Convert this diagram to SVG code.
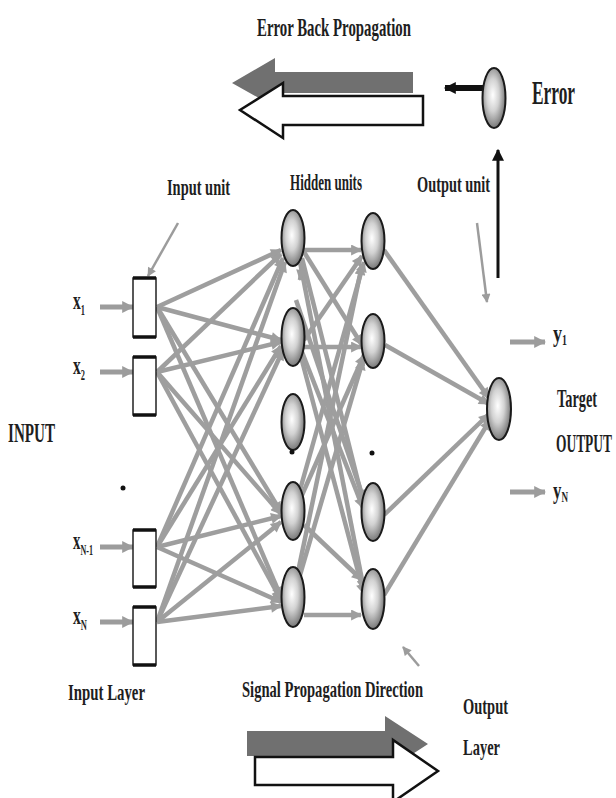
<svg xmlns="http://www.w3.org/2000/svg" width="616" height="798" viewBox="0 0 616 798">
<style>
text{font-family:"Liberation Serif","Times New Roman",serif;fill:#1e1e1e;font-weight:bold}
.lbl{font-size:26px}
.sm{font-size:24px}
.sub{font-size:14px}
.conn{stroke:#9e9e9e;stroke-width:4.5;fill:none;marker-end:url(#ga)}
.inp{stroke:#9c9c9c;stroke-width:5;fill:none;marker-end:url(#gb)}
.ptr{stroke:#9c9c9c;stroke-width:2.5;fill:none;marker-end:url(#gp)}
.node{fill:url(#ball);stroke:#1a1a1a;stroke-width:2}
.box{fill:#fff;stroke:#222;stroke-width:1.5}
.edge{stroke:#111;stroke-width:3.5}
</style>
<defs>
<radialGradient id="ball" cx="45%" cy="45%" r="60%">
<stop offset="0" stop-color="#ffffff"/>
<stop offset="0.45" stop-color="#d2d2d2"/>
<stop offset="1" stop-color="#6a6a6a"/>
</radialGradient>
<marker id="ga" viewBox="0 0 10 10" refX="9" refY="5" markerWidth="13" markerHeight="11" markerUnits="userSpaceOnUse" orient="auto"><path d="M0,0 L10,5 L0,10 Z" fill="#9e9e9e"/></marker>
<marker id="gb" viewBox="0 0 10 10" refX="9" refY="5" markerWidth="12" markerHeight="16" markerUnits="userSpaceOnUse" orient="auto"><path d="M0,0 L10,5 L0,10 Z" fill="#9c9c9c"/></marker>
<marker id="gp" viewBox="0 0 10 10" refX="9" refY="5" markerWidth="10" markerHeight="9" markerUnits="userSpaceOnUse" orient="auto"><path d="M0,0 L10,5 L0,10 Z" fill="#9c9c9c"/></marker>
<marker id="ka" viewBox="0 0 10 10" refX="9" refY="5" markerWidth="12" markerHeight="22" markerUnits="userSpaceOnUse" orient="auto"><path d="M0,0 L10,5 L0,10 Z" fill="#111"/></marker>
<marker id="kb" viewBox="0 0 10 10" refX="9" refY="5" markerWidth="18" markerHeight="12" markerUnits="userSpaceOnUse" orient="auto"><path d="M0,0 L10,5 L0,10 Z" fill="#111"/></marker>
</defs>
<rect width="616" height="798" fill="#fff"/>

<g id="connectors">
<!-- input to hidden layer 1 -->
<line class="conn" x1="157" y1="307" x2="281" y2="250"/>
<line class="conn" x1="157" y1="307" x2="281" y2="340"/>
<line class="conn" x1="157" y1="307" x2="281" y2="512"/>
<line class="conn" x1="157" y1="307" x2="281" y2="597"/>
<line class="conn" x1="157" y1="372" x2="281" y2="254"/>
<line class="conn" x1="157" y1="372" x2="281" y2="342"/>
<line class="conn" x1="157" y1="372" x2="281" y2="514"/>
<line class="conn" x1="157" y1="372" x2="281" y2="600"/>
<line class="conn" x1="157" y1="547" x2="283" y2="258"/>
<line class="conn" x1="157" y1="547" x2="281" y2="346"/>
<line class="conn" x1="157" y1="547" x2="281" y2="516"/>
<line class="conn" x1="157" y1="547" x2="281" y2="602"/>
<line class="conn" x1="157" y1="622" x2="285" y2="262"/>
<line class="conn" x1="157" y1="622" x2="283" y2="350"/>
<line class="conn" x1="157" y1="622" x2="281" y2="522"/>
<line class="conn" x1="157" y1="622" x2="281" y2="606"/>
<!-- hidden 1 to hidden 2 -->
<line class="conn" x1="304" y1="250" x2="361" y2="250"/>
<line class="conn" x1="304" y1="252" x2="362" y2="345"/>
<line class="conn" x1="302" y1="258" x2="364" y2="505"/>
<line class="conn" x1="300" y1="262" x2="364" y2="590"/>
<line class="conn" x1="304" y1="340" x2="362" y2="256"/>
<line class="conn" x1="304" y1="347" x2="361" y2="347"/>
<line class="conn" x1="302" y1="352" x2="363" y2="508"/>
<line class="conn" x1="301" y1="357" x2="364" y2="594"/>
<line class="conn" x1="300" y1="490" x2="364" y2="262"/>
<line class="conn" x1="302" y1="495" x2="364" y2="355"/>
<line class="conn" x1="304" y1="525" x2="362" y2="580"/>
<line class="conn" x1="298" y1="572" x2="362" y2="265"/>
<line class="conn" x1="300" y1="575" x2="363" y2="360"/>
<line class="conn" x1="304" y1="615" x2="361" y2="615"/>
<line class="conn" x1="296" y1="300" x2="364" y2="500"/>
<line class="conn" x1="302" y1="268" x2="300" y2="280"/>
<!-- hidden 2 to output -->
<line class="conn" x1="384" y1="250" x2="489" y2="398"/>
<line class="conn" x1="385" y1="345" x2="489" y2="404"/>
<line class="conn" x1="384" y1="515" x2="489" y2="414"/>
<line class="conn" x1="384" y1="595" x2="490" y2="420"/>
<!-- input arrows -->
<line class="inp" x1="100" y1="307" x2="133" y2="307"/>
<line class="inp" x1="100" y1="372" x2="133" y2="372"/>
<line class="inp" x1="100" y1="547" x2="133" y2="547"/>
<line class="inp" x1="100" y1="622" x2="133" y2="622"/>
<!-- output arrows -->
<line class="inp" x1="510" y1="342" x2="545" y2="342"/>
<line class="inp" x1="510" y1="492" x2="545" y2="492"/>
<!-- pointers -->
<line class="ptr" x1="178" y1="223" x2="148" y2="276"/>
<line class="ptr" x1="477" y1="223" x2="487" y2="302"/>
<line class="ptr" x1="419" y1="666" x2="403" y2="647"/>
<!-- error arrows -->
<line stroke="#111" stroke-width="3" x1="498" y1="278" x2="498" y2="150" marker-end="url(#ka)"/>
<line stroke="#111" stroke-width="6" x1="484" y1="88" x2="445" y2="88" marker-end="url(#kb)"/>
</g>

<g id="back-propagation-arrow">
<polygon points="413,72 275,72 275,58 232,83 275,107 275,93 413,93" fill="#707070"/>
<polygon points="423,96 283,96 283,83 240,110 283,138 283,125 423,125" fill="#fff" stroke="#111" stroke-width="2.5"/>
</g>
<g id="signal-propagation-arrow">
<polygon points="247,731 385,731 385,716 428,744 385,772 385,756 247,756" fill="#707070"/>
<polygon points="255,757 393,757 393,740 438,771 393,802 393,785 255,785" fill="#fff" stroke="#111" stroke-width="2.5"/>
</g>

<g id="input-units">
<g id="in1"><rect class="box" x="133" y="278" width="23" height="59"/><line class="edge" x1="133" y1="278" x2="156" y2="278"/><line class="edge" x1="133" y1="337" x2="156" y2="337"/></g>
<g id="in2"><rect class="box" x="133" y="357" width="23" height="58"/><line class="edge" x1="133" y1="357" x2="156" y2="357"/><line class="edge" x1="133" y1="415" x2="156" y2="415"/></g>
<g id="in3"><rect class="box" x="133" y="530" width="23" height="57"/><line class="edge" x1="133" y1="530" x2="156" y2="530"/><line class="edge" x1="133" y1="587" x2="156" y2="587"/></g>
<g id="in4"><rect class="box" x="133" y="607" width="23" height="58"/><line class="edge" x1="133" y1="607" x2="156" y2="607"/><line class="edge" x1="133" y1="665" x2="156" y2="665"/></g>
<circle cx="123" cy="488" r="2.5" fill="#111"/>
</g>

<g id="hidden-layer-1">
<ellipse id="h11" class="node" cx="293" cy="238" rx="11.5" ry="28"/>
<ellipse id="h12" class="node" cx="293" cy="337" rx="11.5" ry="29"/>
<ellipse id="h13" class="node" cx="293" cy="422" rx="11.5" ry="28"/>
<circle cx="292" cy="452" r="2.5" fill="#111"/>
<ellipse id="h14" class="node" cx="293" cy="511" rx="11.5" ry="29"/>
<ellipse id="h15" class="node" cx="293" cy="597" rx="11.5" ry="30"/>
</g>
<g id="hidden-layer-2">
<ellipse id="h21" class="node" cx="373" cy="241" rx="11.5" ry="28"/>
<ellipse id="h22" class="node" cx="373" cy="341" rx="11.5" ry="27"/>
<circle cx="372" cy="453" r="2.5" fill="#111"/>
<ellipse id="h24" class="node" cx="373" cy="512" rx="11.5" ry="29"/>
<ellipse id="h25" class="node" cx="373" cy="599" rx="11.5" ry="30"/>
</g>
<g id="output-unit"><ellipse class="node" cx="499" cy="409" rx="12" ry="31"/></g>
<g id="error-unit"><ellipse class="node" cx="494" cy="98" rx="11.5" ry="30"/></g>

<g id="labels">
<text class="lbl" x="257" y="36" textLength="154" lengthAdjust="spacingAndGlyphs">Error Back Propagation</text>
<text x="532" y="104" font-size="34" textLength="43" lengthAdjust="spacingAndGlyphs">Error</text>
<text class="sm" x="167" y="195" textLength="63" lengthAdjust="spacingAndGlyphs">Input unit</text>
<text class="sm" x="290" y="190" textLength="72" lengthAdjust="spacingAndGlyphs">Hidden units</text>
<text class="sm" x="417" y="192" textLength="73" lengthAdjust="spacingAndGlyphs">Output unit</text>
<text class="lbl" x="73" y="309" textLength="12" lengthAdjust="spacingAndGlyphs">x<tspan class="sub" dy="6">1</tspan></text>
<text class="lbl" x="73" y="374" textLength="12" lengthAdjust="spacingAndGlyphs">x<tspan class="sub" dy="6">2</tspan></text>
<text class="lbl" x="73" y="549" textLength="20" lengthAdjust="spacingAndGlyphs">x<tspan class="sub" dy="6">N-1</tspan></text>
<text class="lbl" x="73" y="624" textLength="14" lengthAdjust="spacingAndGlyphs">x<tspan class="sub" dy="6">N</tspan></text>
<text x="8" y="442" font-size="27" textLength="47" lengthAdjust="spacingAndGlyphs">INPUT</text>
<text class="sm" x="68" y="700" textLength="77" lengthAdjust="spacingAndGlyphs">Input Layer</text>
<text class="sm" x="242" y="697" textLength="181" lengthAdjust="spacingAndGlyphs">Signal Propagation Direction</text>
<text class="sm" x="463" y="714" textLength="45" lengthAdjust="spacingAndGlyphs">Output</text>
<text class="sm" x="463" y="755" textLength="37" lengthAdjust="spacingAndGlyphs">Layer</text>
<text class="lbl" x="553" y="342" textLength="14" lengthAdjust="spacingAndGlyphs">y<tspan class="sub" dy="3">1</tspan></text>
<text class="lbl" x="553" y="499" textLength="15" lengthAdjust="spacingAndGlyphs">y<tspan class="sub" dy="3">N</tspan></text>
<text x="557" y="407" font-size="25" textLength="40" lengthAdjust="spacingAndGlyphs">Target</text>
<text x="556" y="452" font-size="25" textLength="56" lengthAdjust="spacingAndGlyphs">OUTPUT</text>
</g>
</svg>
